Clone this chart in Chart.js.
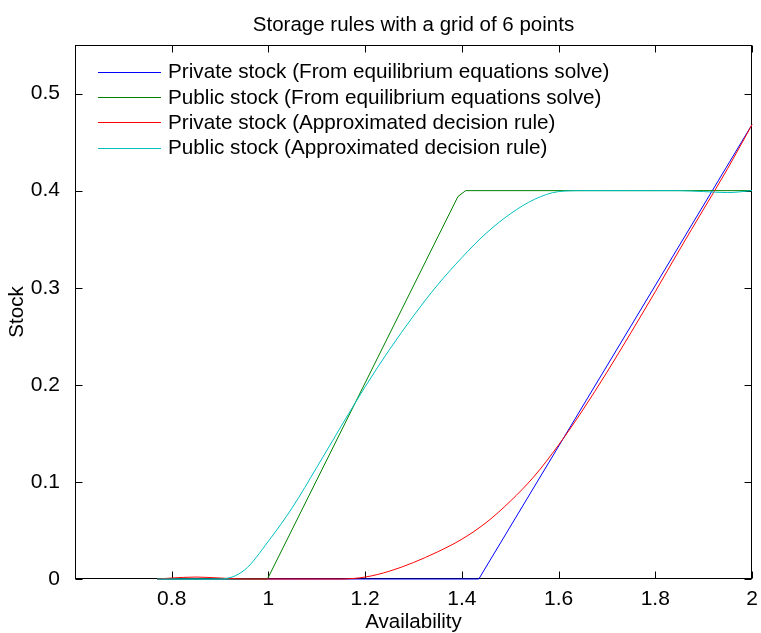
<!DOCTYPE html>
<html>
<head>
<meta charset="utf-8">
<title>Storage rules</title>
<script src="https://cdn.jsdelivr.net/npm/chart.js@4.4.0/dist/chart.umd.min.js"></script>
<style>
    html, body { margin: 0; padding: 0; background: #fff; }
</style>
</head>
<body>
<canvas id="storage-chart" width="761" height="633"></canvas>
<script>
// values
const chartTitle = 'Storage rules with a grid of 6 points';
const xTicks = [0.8, 1, 1.2, 1.4, 1.6, 1.8, 2];
const yTicks = [0, 0.1, 0.2, 0.3, 0.4, 0.5];

const seriesLabels = [
    'Private stock (From equilibrium equations solve)',
    'Public stock (From equilibrium equations solve)',
    'Private stock (Approximated decision rule)',
    'Public stock (Approximated decision rule)'
];
const seriesColors = ['#0000ff', '#008000', '#ff0000', '#00bfbf'];

// equilibrium solutions (piecewise linear)
const privateEqX = [0.77, 1.435, 2.0];
const privateEqY = [0, 0, 0.468];
const publicEqX = [0.77, 0.998, 1.392, 1.408, 2.0];
const publicEqY = [0, 0, 0.394, 0.4, 0.4];

// approximated decision rules
const availability = [0.77, 0.8, 0.85, 0.9, 0.95, 1.0, 1.05, 1.1, 1.15, 1.2, 1.25, 1.3, 1.35,
    1.4, 1.45, 1.5, 1.55, 1.6, 1.65, 1.7, 1.75, 1.8, 1.85, 1.9, 1.95, 2.0];
const privateApprox = [0, 0.001, 0.002, 0.001, 0, 0, 0, 0, 0, 0.002, 0.008, 0.017, 0.028,
    0.041, 0.058, 0.080, 0.106, 0.138, 0.174, 0.213, 0.254, 0.296, 0.339, 0.381, 0.423, 0.468];
const publicApprox = [0, 0, 0, 0, 0.009, 0.039, 0.074, 0.115, 0.157, 0.198, 0.236, 0.271, 0.303,
    0.331, 0.356, 0.376, 0.391, 0.399, 0.400, 0.400, 0.400, 0.400, 0.400, 0.399, 0.398, 0.400];

const FONT = "'Liberation Sans', Arial, Helvetica, sans-serif";
const toPoints = (xs, ys) => xs.map((x, i) => ({ x: x, y: ys[i] }));

// MATLAB style box, inward ticks, legend and title
const matlabAxes = {
    id: 'matlabAxes',
    beforeDatasetsDraw(chart) {
        const { ctx, chartArea: a, scales } = chart;
        const L = Math.round(a.left) + 0.5;
        const R = Math.round(a.right) - 0.5;
        const T = Math.round(a.top) + 0.5;
        const B = Math.round(a.bottom) - 0.5;
        const len = 7;

        ctx.save();
        ctx.strokeStyle = '#000';
        ctx.lineWidth = 1;
        ctx.strokeRect(L, T, R - L, B - T);

        ctx.beginPath();
        xTicks.forEach(v => {
            const px = Math.round(scales.x.getPixelForValue(v)) + 0.5;
            ctx.moveTo(px, B); ctx.lineTo(px, B - len);
            ctx.moveTo(px, T); ctx.lineTo(px, T + len);
        });
        yTicks.forEach(v => {
            const py = Math.round(scales.y.getPixelForValue(v)) + 0.5;
            ctx.moveTo(L, py); ctx.lineTo(L + len, py);
            ctx.moveTo(R, py); ctx.lineTo(R - len, py);
        });
        ctx.stroke();
        ctx.restore();
    },
    afterDatasetsDraw(chart) {
        const { ctx, chartArea: a } = chart;
        ctx.save();

        // legend, no box
        ctx.font = '20.7px ' + FONT;
        ctx.textBaseline = 'middle';
        ctx.textAlign = 'left';
        chart.data.datasets.forEach((ds, i) => {
            const y = 71.7 + i * 25.3;
            ctx.strokeStyle = ds.borderColor;
            ctx.lineWidth = 1;
            ctx.beginPath();
            ctx.moveTo(98, Math.round(y) + 0.5);
            ctx.lineTo(161, Math.round(y) + 0.5);
            ctx.stroke();
            ctx.fillStyle = '#000';
            ctx.fillText(ds.label, 168, y + 1);
        });

        // title centred over the axes
        ctx.font = '20.5px ' + FONT;
        ctx.textAlign = 'center';
        ctx.textBaseline = 'alphabetic';
        ctx.fillText(chartTitle, (a.left + a.right) / 2, 31);
        ctx.restore();
    }
};

const datasets = [
    { label: seriesLabels[0], data: toPoints(privateEqX, privateEqY), order: 4 },
    { label: seriesLabels[1], data: toPoints(publicEqX, publicEqY), order: 3 },
    { label: seriesLabels[2], data: toPoints(availability, privateApprox), order: 2, cubicInterpolationMode: 'monotone' },
    { label: seriesLabels[3], data: toPoints(availability, publicApprox), order: 1, cubicInterpolationMode: 'monotone' }
].map((ds, i) => Object.assign(ds, {
    borderColor: seriesColors[i],
    backgroundColor: seriesColors[i],
    borderWidth: 1,
    pointRadius: 0,
    fill: false,
    clip: 4
}));

const tickFont = { family: FONT, size: 21 };
const labelFont = { family: FONT, size: 20.5, lineHeight: 1 };

new Chart(document.getElementById('storage-chart').getContext('2d'), {
    type: 'line',
    data: { datasets: datasets },
    options: {
        responsive: false,
        animation: false,
        layout: { padding: { top: 45, right: 9, left: 0, bottom: 0 } },
        plugins: {
            legend: { display: false },
            title: { display: false },
            tooltip: { enabled: false }
        },
        scales: {
            x: {
                type: 'linear',
                min: 0.6,
                max: 2,
                grid: { display: false },
                border: { display: false },
                ticks: {
                    color: '#000',
                    font: tickFont,
                    padding: 0,
                    maxRotation: 0,
                    callback: v => String(Number(v.toFixed(1)))
                },
                title: {
                    display: true,
                    text: 'Availability',
                    color: '#000',
                    font: labelFont,
                    padding: { top: 0, bottom: 0 }
                },
                afterBuildTicks: s => { s.ticks = xTicks.map(v => ({ value: v })); },
                afterFit: s => {
                    s.height = 54;
                    s.paddingLeft = 0;
                    s.paddingRight = 0;
                }
            },
            y: {
                type: 'linear',
                min: 0,
                max: 0.55,
                grid: { display: false },
                border: { display: false },
                ticks: {
                    color: '#000',
                    font: tickFont,
                    padding: 7,
                    callback: v => String(Number(v.toFixed(1)))
                },
                title: {
                    display: true,
                    text: 'Stock',
                    color: '#000',
                    font: labelFont,
                    padding: { top: 7, bottom: 0 }
                },
                afterBuildTicks: s => { s.ticks = yTicks.map(v => ({ value: v })); },
                afterFit: s => {
                    s.width = 75;
                    s.paddingTop = 0;
                    s.paddingBottom = 0;
                }
            }
        }
    },
    plugins: [matlabAxes]
});
</script>
</body>
</html>
